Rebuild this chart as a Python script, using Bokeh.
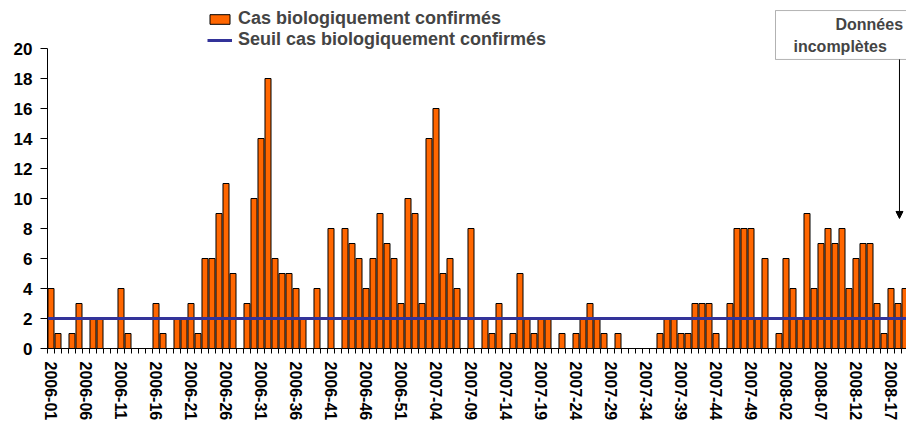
from bokeh.plotting import figure
from bokeh.models import (Range1d, FixedTicker, Legend, LegendItem, BoxAnnotation,
                          Label, Arrow, NormalHead, ColumnDataSource)
from bokeh.embed import file_html
from bokeh.resources import INLINE

# ---- data (weekly confirmed cases) ----
cas_2006 = [4, 1, 0, 1, 3, 0, 2, 2, 0, 0,
            4, 1, 0, 0, 0, 3, 1, 0, 2, 2,
            3, 1, 6, 6, 9, 11, 5, 0, 3, 10,
            14, 18, 6, 5, 5, 4, 2, 0, 4, 0,
            8, 0, 8, 7, 6, 4, 6, 9, 7, 6,
            3, 10]
cas_2007 = [9, 3, 14, 16, 5, 6, 4, 0, 8, 0,
            2, 1, 3, 0, 1, 5, 2, 1, 2, 2,
            0, 1, 0, 1, 2, 3, 2, 1, 0, 1,
            0, 0, 0, 0, 0, 1, 2, 2, 1, 1,
            3, 3, 3, 1, 0, 3, 8, 8, 8, 2,
            6, 0]
cas_2008 = [1, 6, 4, 2, 9, 4, 7, 8, 7, 8,
            4, 6, 7, 7, 3, 1, 4, 3, 4]
seuil = 2

tick_labels = ["2006-01", "2006-06", "2006-11", "2006-16", "2006-21", "2006-26",
               "2006-31", "2006-36", "2006-41", "2006-46", "2006-51", "2007-04",
               "2007-09", "2007-14", "2007-19", "2007-24", "2007-29", "2007-34",
               "2007-39", "2007-44", "2007-49", "2008-02", "2008-07", "2008-12",
               "2008-17"]
y_ticks = [0, 2, 4, 6, 8, 10, 12, 14, 16, 18, 20]

semaines = ([f"2006-{w:02d}" for w in range(1, len(cas_2006) + 1)] +
            [f"2007-{w:02d}" for w in range(1, len(cas_2007) + 1)] +
            [f"2008-{w:02d}" for w in range(1, len(cas_2008) + 1)])
cas = cas_2006 + cas_2007 + cas_2008
pos = list(range(1, len(cas) + 1))

FONT = "Liberation Sans"
ORANGE = "#FF6600"
BLUE = "#333399"

x_start, x_end = 0.5, 0.5 + 859 / 7
p = figure(width=906, height=423, output_backend="svg", toolbar_location=None,
           x_range=Range1d(x_start, x_end), y_range=Range1d(0, 348 / 15),
           min_border_left=47, min_border_right=0, min_border_top=0,
           min_border_bottom=75)
p.xgrid.visible = False
p.ygrid.visible = False
p.outline_line_color = None
p.background_fill_color = "white"
p.border_fill_color = "white"

src = ColumnDataSource(dict(x=pos, cas=cas, semaine=semaines))
bars = p.vbar(x="x", top="cas", width=0.86, source=src,
              fill_color=ORANGE, line_color="black", line_width=1)

seuil_line = p.line(x=[x_start, x_end], y=[seuil, seuil], line_color=BLUE, line_width=3)

legend = Legend(items=[LegendItem(label="Cas biologiquement confirmés", renderers=[bars]),
                       LegendItem(label="Seuil cas biologiquement confirmés", renderers=[seuil_line])],
                location=(160, 298), orientation="vertical",
                border_line_color=None, background_fill_alpha=0,
                padding=0, margin=0, spacing=-7,
                glyph_width=25, glyph_height=12, label_standoff=6,
                label_text_font=FONT, label_text_font_style="bold",
                label_text_font_size="18px", label_height=17)
p.add_layout(legend)

# x axis
xa = p.xaxis[0]
label_pos = [semaines.index(t) + 1 for t in tick_labels]
xa.ticker = FixedTicker(ticks=label_pos,
                        minor_ticks=[x - 0.5 for x in pos] + [pos[-1] + 0.5])
xa.major_label_overrides = {k: t for k, t in zip(label_pos, tick_labels)}
xa.major_tick_line_color = None
xa.major_tick_out = 0
xa.major_tick_in = 0
xa.minor_tick_line_color = "black"
xa.minor_tick_out = 5
xa.minor_tick_in = 0
xa.major_label_orientation = "vertical"
xa.major_label_text_font = FONT
xa.major_label_text_font_style = "bold"
xa.major_label_text_font_size = "16px"
xa.major_label_text_color = "black"
xa.major_label_standoff = 8
xa.axis_line_color = "black"

# y axis
ya = p.yaxis[0]
ya.ticker = FixedTicker(ticks=y_ticks)
ya.bounds = (0, 20)
ya.major_tick_out = 7
ya.major_tick_in = 0
ya.minor_tick_line_color = None
ya.major_label_text_font = FONT
ya.major_label_text_font_style = "bold"
ya.major_label_text_font_size = "17px"
ya.major_label_text_color = "black"
ya.major_label_standoff = 8
ya.axis_line_color = "black"

# "Données incomplètes" annotation
p.add_layout(BoxAnnotation(left=104.5, right=130, top=22.53, bottom=19.27,
                           fill_color="white", fill_alpha=1,
                           line_color="black", line_width=1))
p.add_layout(Label(x=113.07, y=21.6, text="Données", text_font=FONT,
                   text_font_style="bold", text_font_size="16px",
                   text_align="left", text_baseline="middle"))
p.add_layout(Label(x=107.07, y=20.13, text="incomplètes", text_font=FONT,
                   text_font_style="bold", text_font_size="16px",
                   text_align="left", text_baseline="middle"))
p.add_layout(Arrow(x_start=122.21, y_start=19.27, x_end=122.21, y_end=8.67,
                   line_color="black", line_width=1,
                   end=NormalHead(size=7, fill_color="black", line_color="black")))

open("out.html", "w").write(file_html(p, INLINE))
